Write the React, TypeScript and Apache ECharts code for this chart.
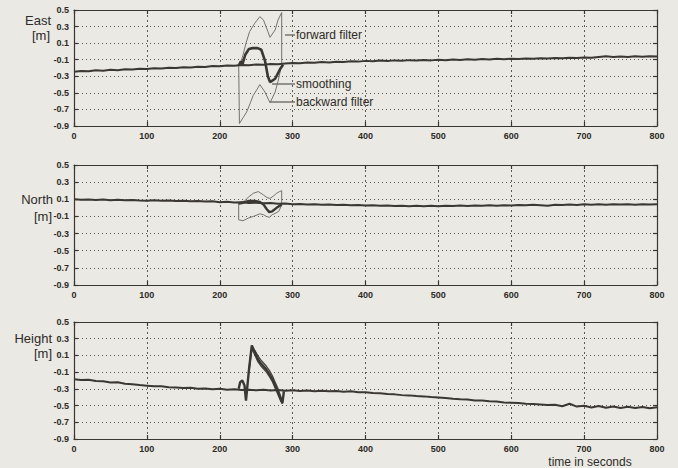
import React, { useEffect, useRef } from "react";
import * as echarts from "echarts";

// ---------- data ----------
const Y_MIN = -0.9;
const Y_MAX = 0.5;

const mainTime = [
  0, 10, 20, 30, 40, 50, 60, 70, 80, 90, 100, 110, 120, 130, 140, 150, 160, 170, 180, 190,
  200, 210, 220, 230, 240, 250, 260, 270, 280, 290, 300, 310, 320, 330, 340, 350, 360, 370, 380, 390,
  400, 410, 420, 430, 440, 450, 460, 470, 480, 490, 500, 510, 520, 530, 540, 550, 560, 570, 580, 590,
  600, 610, 620, 630, 640, 650, 660, 670, 680, 690, 700, 710, 720, 730, 740, 750, 760, 770, 780, 790, 800,
];

const eastMain = [
  -0.245, -0.236, -0.240, -0.228, -0.232, -0.222, -0.226, -0.215, -0.219, -0.208,
  -0.212, -0.203, -0.206, -0.196, -0.200, -0.190, -0.194, -0.184, -0.188, -0.176,
  -0.180, -0.170, -0.174, -0.163, -0.168, -0.158, -0.162, -0.151, -0.156, -0.145,
  -0.140, -0.143, -0.134, -0.138, -0.129, -0.133, -0.124, -0.128, -0.119, -0.123,
  -0.114, -0.118, -0.110, -0.115, -0.108, -0.113, -0.105, -0.110, -0.103, -0.108,
  -0.101, -0.106, -0.098, -0.103, -0.095, -0.100, -0.092, -0.097, -0.089, -0.094,
  -0.088, -0.092, -0.084, -0.089, -0.081, -0.086, -0.078, -0.083, -0.075, -0.080,
  -0.072, -0.077, -0.066, -0.058, -0.066, -0.060, -0.068, -0.058, -0.065, -0.057, -0.062,
];

const eastForwardTime = [226, 228, 232, 236, 241, 248, 255, 260, 266, 269, 276, 280, 285, 285];
const eastForward = [-0.16, -0.16, -0.04, 0.10, 0.24, 0.34, 0.42, 0.38, 0.24, 0.17, 0.26, 0.38, 0.47, -0.15];

const eastBackwardTime = [226, 227, 232, 237, 242, 246, 251, 255, 262, 269, 276, 280, 285];
const eastBackward = [-0.16, -0.87, -0.80, -0.73, -0.62, -0.53, -0.46, -0.40, -0.49, -0.62, -0.49, -0.36, -0.16];

const eastSmoothTime = [226, 229, 231, 235, 240, 245, 252, 257, 262, 266, 269, 276, 283, 287];
const eastSmooth = [-0.17, -0.12, -0.16, -0.04, 0.03, 0.04, 0.04, 0.02, -0.11, -0.30, -0.37, -0.33, -0.21, -0.16];

const northMain = [
  0.100, 0.094, 0.098, 0.092, 0.097, 0.090, 0.095, 0.088, 0.093, 0.086,
  0.084, 0.089, 0.082, 0.087, 0.079, 0.083, 0.076, 0.080, 0.073, 0.077,
  0.066, 0.071, 0.062, 0.064, 0.058, 0.060, 0.053, 0.056, 0.048, 0.050,
  0.042, 0.046, 0.038, 0.042, 0.035, 0.039, 0.032, 0.036, 0.029, 0.033,
  0.028, 0.031, 0.024, 0.028, 0.022, 0.026, 0.020, 0.025, 0.019, 0.024,
  0.020, 0.025, 0.021, 0.027, 0.022, 0.028, 0.024, 0.030, 0.025, 0.031,
  0.028, 0.033, 0.029, 0.035, 0.031, 0.024, 0.036, 0.032, 0.038, 0.033,
  0.041, 0.036, 0.042, 0.037, 0.043, 0.038, 0.042, 0.037, 0.043, 0.038, 0.041,
];

const northForwardTime = [226, 226, 234, 240, 246, 253, 260, 265, 269, 274, 278, 282, 285, 285];
const northForward = [0.05, 0.06, 0.08, 0.13, 0.17, 0.19, 0.15, 0.12, 0.11, 0.14, 0.17, 0.19, 0.20, 0.04];

const northBackwardTime = [226, 226, 232, 239, 246, 255, 260, 264, 268, 272, 277, 281, 285];
const northBackward = [0.05, -0.14, -0.15, -0.12, -0.10, -0.07, -0.08, -0.10, -0.11, -0.08, -0.06, -0.04, 0.03];

const northSmoothTime = [226, 232, 240, 248, 255, 260, 264, 268, 272, 278, 285];
const northSmooth = [0.05, 0.06, 0.08, 0.08, 0.07, 0.04, -0.01, -0.05, -0.04, 0.00, 0.04];

const heightMain = [
  -0.185, -0.195, -0.190, -0.205, -0.210, -0.225, -0.220, -0.240, -0.245, -0.255,
  -0.262, -0.270, -0.268, -0.280, -0.285, -0.290, -0.288, -0.298, -0.295, -0.305,
  -0.300, -0.310, -0.305, -0.315, -0.310, -0.318, -0.312, -0.320, -0.315, -0.322,
  -0.318, -0.325, -0.320, -0.328, -0.322, -0.330, -0.326, -0.334, -0.330, -0.340,
  -0.340, -0.350, -0.354, -0.362, -0.366, -0.375, -0.378, -0.386, -0.390, -0.398,
  -0.404, -0.410, -0.418, -0.424, -0.428, -0.438, -0.440, -0.448, -0.452, -0.462,
  -0.466, -0.470, -0.478, -0.482, -0.488, -0.494, -0.490, -0.508, -0.478, -0.512,
  -0.502, -0.522, -0.505, -0.526, -0.510, -0.528, -0.514, -0.530, -0.516, -0.532, -0.520,
];

const heightSmoothTime = [226, 228, 231, 234, 236, 240, 244, 248, 252, 256, 260, 264, 268, 272, 276, 280, 284, 286, 288];
const heightSmooth = [-0.30, -0.22, -0.20, -0.26, -0.44, -0.08, 0.22, 0.14, 0.06, 0.01, -0.03, -0.07, -0.12, -0.18, -0.26, -0.34, -0.43, -0.47, -0.33];

const heightFilterTime = [240, 244, 248, 252, 256, 260, 264, 268, 272, 276, 280, 284, 286];
const heightForward = [-0.06, 0.20, 0.16, 0.10, 0.05, 0.01, -0.03, -0.08, -0.14, -0.22, -0.30, -0.40, -0.45];
const heightBackward = [-0.10, 0.18, 0.11, 0.03, -0.02, -0.06, -0.10, -0.15, -0.21, -0.29, -0.37, -0.45, -0.48];

const panelNames = ["East", "North", "Height"];
const unitLabel = "[m]";
const xTitle = "time in seconds";
const annotations = ["forward filter", "smoothing", "backward filter"];

// ---------- styling ----------
const FONT = '"Liberation Sans", Arial, Helvetica, sans-serif';
const BG = "#eae9e3";
const INK = "#2e2b28";
const AXIS = "#3a3632";
const GRIDC = "#5d5953";
const MAINC = "#3b3733";
const FILTC = "#77726b";

const grids = [
  { left: 74, top: 10, width: 583, height: 116 },
  { left: 74, top: 165, width: 583, height: 120 },
  { left: 74, top: 322, width: 583, height: 117 },
];

function pts(t: number[], v: number[]) {
  return t.map((x, i) => [x, v[i] - Y_MIN]);
}

function buildOption() {
  const xAxis: any[] = [];
  const yAxis: any[] = [];
  grids.forEach((_, i) => {
    const tick = { show: true, inside: true, length: 4, lineStyle: { color: AXIS, width: 1.2 } };
    const line = { show: true, onZero: false, lineStyle: { color: AXIS, width: 1.2 } };
    xAxis.push({
      type: "value", gridIndex: i, min: 0, max: 800, interval: 100, position: "bottom",
      axisLine: line, axisTick: tick,
      axisLabel: { show: true, fontSize: 9, color: INK, margin: 5, fontFamily: FONT, fontWeight: "bold" },
      splitLine: { show: true, lineStyle: { color: GRIDC, type: [2, 3], width: 1 } },
    });
    xAxis.push({
      type: "value", gridIndex: i, min: 0, max: 800, interval: 100, position: "top",
      axisLine: line, axisTick: tick, axisLabel: { show: false }, splitLine: { show: false },
    });
    yAxis.push({
      type: "value", gridIndex: i, min: 0, max: Y_MAX - Y_MIN, interval: 0.2, position: "left",
      axisLine: line, axisTick: tick,
      axisLabel: {
        show: true, fontSize: 9, color: INK, margin: 5, fontFamily: FONT, fontWeight: "bold",
        formatter: (v: number) => (v + Y_MIN).toFixed(1),
      },
      splitLine: { show: true, lineStyle: { color: GRIDC, type: [1, 3], width: 1 } },
    });
    yAxis.push({
      type: "value", gridIndex: i, min: 0, max: Y_MAX - Y_MIN, interval: 0.2, position: "right",
      axisLine: line, axisTick: tick, axisLabel: { show: false }, splitLine: { show: false },
    });
  });

  const mk = (g: number, data: number[][], color: string, width: number, z: number) => ({
    type: "line", xAxisIndex: g * 2, yAxisIndex: g * 2, data, showSymbol: false, symbol: "none",
    lineStyle: { color, width }, z, silent: true,
  });

  const series = [
    mk(0, pts(mainTime, eastMain), MAINC, 2, 3),
    mk(0, pts(eastForwardTime, eastForward), FILTC, 1, 2),
    mk(0, pts(eastBackwardTime, eastBackward), FILTC, 1, 2),
    mk(0, pts(eastSmoothTime, eastSmooth), MAINC, 2.6, 4),
    mk(1, pts(mainTime, northMain), MAINC, 2, 3),
    mk(1, pts(northForwardTime, northForward), FILTC, 1, 2),
    mk(1, pts(northBackwardTime, northBackward), FILTC, 1, 2),
    mk(1, pts(northSmoothTime, northSmooth), MAINC, 2.4, 4),
    mk(2, pts(mainTime, heightMain), MAINC, 2, 3),
    mk(2, pts(heightFilterTime, heightForward), "#4a4641", 1.4, 2),
    mk(2, pts(heightFilterTime, heightBackward), "#4a4641", 1.4, 2),
    mk(2, pts(heightSmoothTime, heightSmooth), MAINC, 2.4, 4),
  ];

  const txt = (text: string, x: number, y: number, align: string, size = 12) => ({
    type: "text", x, y, silent: true,
    style: { text, fill: INK, font: `${size}px ${FONT}`, align, verticalAlign: "middle" },
  });
  const ln = (x1: number, y1: number, x2: number, y2: number) => ({
    type: "line", silent: true, shape: { x1, y1, x2, y2 }, style: { stroke: "#3f3b37", lineWidth: 1 },
  });

  const graphic = [
    txt(panelNames[0], 51, 20, "right", 13),
    txt(unitLabel, 50, 35, "right", 13),
    txt(panelNames[1], 53, 199, "right", 13),
    txt(unitLabel, 52, 216, "right", 13),
    txt(panelNames[2], 52, 338, "right", 13),
    txt(unitLabel, 52, 353, "right", 13),
    txt(xTitle, 590, 462, "center"),
    txt(annotations[0], 296, 35, "left"),
    txt(annotations[1], 296, 84, "left"),
    txt(annotations[2], 296, 102, "left"),
    ln(285, 35, 295, 35),
    ln(272, 84, 295, 84),
    ln(270, 102, 295, 102),
  ];

  return {
    animation: false,
    backgroundColor: BG,
    grid: grids,
    xAxis,
    yAxis,
    series,
    graphic,
  };
}

export default function App() {
  const ref = useRef<HTMLDivElement>(null);
  useEffect(() => {
    document.body.style.margin = "0";
    if (!ref.current) return;
    const chart = echarts.init(ref.current, undefined, { renderer: "svg" });
    chart.setOption(buildOption() as any);
    return () => chart.dispose();
  }, []);
  return (
    <div
      ref={ref}
      style={{ position: "absolute", left: 0, top: 0, width: 678, height: 468, background: BG }}
    />
  );
}
